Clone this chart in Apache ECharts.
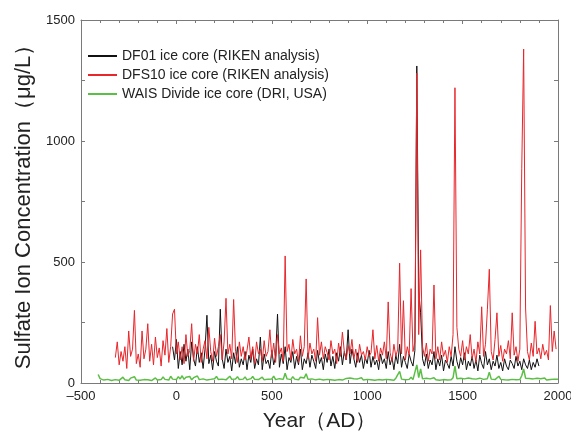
<!DOCTYPE html>
<html>
<head>
<meta charset="utf-8">
<script src="https://cdn.jsdelivr.net/npm/echarts@6/dist/echarts.min.js"></script>
<style>
  html, body { margin: 0; padding: 0; background: #fff; }
  #main { width: 571px; height: 432px; }
</style>
</head>
<body>
<div id="main"></div>
<script>
// 每条序列：起始年份 + 10年步长 + 数值
const seriesNames = ['DF01 ice core (RIKEN analysis)', 'DFS10 ice core (RIKEN analysis)', 'WAIS Divide ice core (DRI, USA)']
const yearStep = 10

const df01Start = -20
const df01Values = [
  150, 95, 180, 60, 130, 75, 160, 90, 140, 55,
  170, 100, 70, 150, 85, 125, 60, 140, 280, 80,
  115, 55, 130, 90, 70, 305, 100, 60, 140, 85,
  110, 50, 125, 80, 150, 65, 100, 75, 130, 55,
  115, 85, 140, 60, 100, 75, 190, 55, 120, 80,
  95, 60, 135, 75, 110, 285, 65, 120, 80, 150,
  55, 105, 85, 130, 60, 110, 75, 140, 55, 100,
  80, 125, 65, 115, 90, 60, 135, 80, 105, 55,
  120, 85, 140, 70, 110, 60, 125, 90, 150, 75,
  130, 95, 220, 80, 140, 100, 65, 125, 85, 115,
  60, 105, 80, 135, 65, 110, 75, 95, 55, 120,
  80, 100, 60, 130, 75, 105, 55, 115, 80, 160,
  65, 110, 85, 60, 120, 90, 70, 135, 1310, 380,
  290, 100, 70, 120, 60, 95, 75, 130, 55, 100,
  70, 115, 50, 95, 80, 60, 110, 70, 150, 90,
  60, 105, 75, 125, 55, 90, 70, 110, 60, 95,
  50, 115, 80, 60, 130, 75, 100, 55, 90, 70,
  115, 60, 85, 50, 100, 70, 55, 95, 80, 60,
  110, 70, 90, 55, 100, 75, 60, 95, 55, 85,
  65, 100, 70
]

const dfs10Start = -320
const dfs10Values = [
  105, 170, 75, 130, 90, 150, 60, 215, 110, 140,
  300, 80, 120, 65, 215, 100, 140, 245, 90, 160,
  75, 190, 105, 145, 70, 175, 115, 225, 85, 150,
  285, 305, 120, 170, 95, 150, 80, 200, 110, 135,
  245, 90, 160, 120, 200, 85, 140, 175, 100, 230,
  130, 90, 185, 110, 150, 200, 95, 170, 350, 120,
  160, 100, 345, 130, 85, 170, 110, 150, 95, 135,
  190, 100, 150, 80, 170, 120, 140, 90, 175, 110,
  130, 220, 105, 165, 85, 200, 120, 145, 90, 525,
  130, 160, 95, 180, 120, 140, 85, 195, 110, 150,
  430, 100, 165, 120, 140, 90, 270, 115, 170, 100,
  150, 125, 95, 175, 120, 140, 80, 165, 110, 210,
  130, 95, 155, 120, 180, 100, 140, 85, 160, 115,
  130, 95, 150, 110, 125, 220, 100, 155, 90, 145,
  115, 170, 100, 335, 125, 90, 160, 110, 140, 495,
  120, 340, 95, 150, 115, 390, 130, 170, 1280, 200,
  550, 150, 110, 165, 90, 140, 120, 405, 100, 150,
  95, 170, 110, 135, 85, 150, 110, 200, 1220, 230,
  140, 110, 175, 95, 150, 120, 200, 100, 140, 85,
  170, 120, 315, 110, 160, 305, 470, 130, 95, 180,
  290, 110, 155, 90, 140, 120, 175, 100, 290, 115,
  150, 90, 140, 885, 1380, 310, 130, 95, 165, 110,
  255, 120, 145, 100, 160, 115, 135, 95, 320, 130,
  215, 140
]

const waisStart = -410
const waisValues = [
  35, 18, 25, 12, 20, 15, 22, 10, 17, 14,
  21, 11, 16, 24, 13, 18, 10, 20, 15, 26,
  12, 17, 11, 19, 14, 22, 13, 18, 10, 16,
  21, 12, 19, 14, 25, 15, 20, 12, 28, 16,
  22, 14, 26, 17, 30, 15, 24, 18, 27, 13,
  22, 16, 29, 14, 21, 17, 25, 12, 20, 15,
  23, 18, 27, 14, 21, 16, 24, 13, 19, 28,
  15, 22, 17, 26, 14, 20, 16, 25, 13, 21,
  18, 27, 15, 22, 14, 19, 24, 13, 20, 16,
  23, 17, 28, 14, 21, 18, 25, 15, 40, 17,
  22, 14, 26, 16, 20, 13, 24, 18, 21, 38,
  15, 22, 17, 25, 13, 20, 16, 23, 12, 19,
  15, 21, 13, 18, 11, 17, 14, 20, 12, 16,
  19, 13, 21, 15, 18, 11, 17, 14, 22, 12,
  18, 15, 20, 13, 17, 11, 19, 14, 21, 12,
  17, 15, 22, 13, 18, 11, 20, 14, 48, 16,
  21, 13, 18, 15, 24, 14, 19, 75, 22, 58,
  17, 14, 20, 12, 17, 15, 22, 13, 18, 11,
  16, 14, 19, 12, 17, 13, 22, 70, 18, 14,
  20, 12, 17, 15, 21, 13, 18, 11, 16, 14,
  20, 25, 15, 22, 18, 45, 16, 21, 14, 19,
  28, 15, 20, 13, 18, 12, 17, 15, 21, 13,
  18, 14, 30, 58, 20, 15, 19, 12, 17, 14,
  20, 13, 18, 15, 21, 12, 17, 14, 22, 16,
  19, 15
]

const xTicks = [-500, 0, 500, 1000, 1500, 2000]
const yTicks = [0, 500, 1000, 1500]

const toPairs = (start, values) => values.map((v, i) => [start + i * yearStep, v])

const chart = echarts.init(document.getElementById('main'))
const frameColor = '#7a7a7a'
const axisFont = { fontFamily: 'Liberation Sans, Arial', fontSize: 13, color: '#222' }

const xBase = {
  type: 'value',
  min: xTicks[0],
  max: xTicks[xTicks.length - 1],
  interval: 500,
  axisLine: { show: true, onZero: false, lineStyle: { color: frameColor, width: 1 } },
  axisTick: { show: true, inside: true, length: 4, lineStyle: { color: frameColor } },
  minorTick: { show: true, splitNumber: 5, length: 3, lineStyle: { color: frameColor } },
  splitLine: { show: false }
}
const yBase = {
  type: 'value',
  min: yTicks[0],
  max: yTicks[yTicks.length - 1],
  interval: 500,
  axisLine: { show: true, onZero: false, lineStyle: { color: frameColor, width: 1 } },
  axisTick: { show: true, inside: true, length: 4, lineStyle: { color: frameColor } },
  minorTick: { show: true, splitNumber: 2, length: 4, lineStyle: { color: frameColor } },
  splitLine: { show: false }
}

const option = {
  animation: false,
  backgroundColor: '#fff',
  grid: { left: 81, right: 13, top: 20, bottom: 49, outerBoundsMode: 'none', containLabel: false },
  legend: {
    orient: 'vertical',
    left: 83,
    top: 44,
    icon: 'rect',
    itemWidth: 29,
    itemHeight: 2,
    itemGap: 5,
    textStyle: { fontFamily: 'Liberation Sans, Arial', fontSize: 14, color: '#222' },
    data: seriesNames
  },
  xAxis: [
    Object.assign({}, xBase, {
      position: 'bottom',
      name: 'Year（AD）',
      nameLocation: 'middle',
      nameGap: 28,
      nameTextStyle: { fontFamily: 'Liberation Sans, Arial', fontSize: 21, color: '#222' },
      axisLabel: Object.assign({}, axisFont, { margin: 7, formatter: v => String(v).replace('-', '–') })
    }),
    Object.assign({}, xBase, { position: 'top', axisLabel: { show: false } })
  ],
  yAxis: [
    Object.assign({}, yBase, {
      position: 'left',
      name: 'Sulfate Ion Concentration（μg/L）',
      nameLocation: 'middle',
      nameGap: 46,
      nameTextStyle: { fontFamily: 'Liberation Sans, Arial', fontSize: 22, color: '#222' },
      axisLabel: Object.assign({}, axisFont, { margin: 6, formatter: v => String(v) })
    }),
    Object.assign({}, yBase, { position: 'right', axisLabel: { show: false } })
  ],
  series: [
    {
      name: seriesNames[0],
      type: 'line',
      symbol: 'none',
      data: toPairs(df01Start, df01Values),
      lineStyle: { color: '#111', width: 1 },
      itemStyle: { color: '#111' },
      z: 2
    },
    {
      name: seriesNames[1],
      type: 'line',
      symbol: 'none',
      data: toPairs(dfs10Start, dfs10Values),
      lineStyle: { color: '#e8262b', width: 1 },
      itemStyle: { color: '#e8262b' },
      z: 3
    },
    {
      name: seriesNames[2],
      type: 'line',
      symbol: 'none',
      data: toPairs(waisStart, waisValues),
      lineStyle: { color: '#5cbf45', width: 1.5 },
      itemStyle: { color: '#5cbf45' },
      z: 4
    }
  ]
}

chart.setOption(option)
</script>
</body>
</html>
